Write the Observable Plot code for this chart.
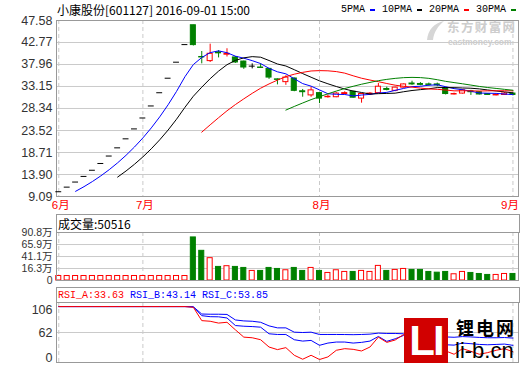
<!DOCTYPE html>
<html>
<head>
<meta charset="utf-8">
<script src="https://cdn.jsdelivr.net/npm/d3@7"></script>
<script src="https://cdn.jsdelivr.net/npm/@observablehq/plot@0.6"></script>
<style>
  html, body { margin: 0; padding: 0; background: #fff; }
  #chart { position: relative; width: 520px; height: 365px; overflow: hidden;
           font-family: "Noto Sans CJK SC", "Liberation Sans", sans-serif; color: #000; }
  .panel { position: absolute; left: 0; }
  .title { position: absolute; left: 57px; top: 2px; font-size: 12px; line-height: 16px; white-space: nowrap; }
  .legend { position: absolute; right: 4px; top: 3px; display: flex; align-items: center;
            font-family: "Liberation Mono", monospace; font-size: 10px; line-height: 14px; }
  .legend .sw { display: inline-block; width: 5px; height: 2px; margin: 0 7px 0 5px; }
  .legend .sw:last-child { margin-right: 0; }
  .box { position: absolute; left: 56px; width: 461px; border: 1px solid #999; border-bottom: none;
         white-space: nowrap; padding-left: 1px; }
  .vol-title { top: 214px; height: 18px; font-size: 12px; line-height: 18px; }
  .rsi-title { top: 287px; height: 15px; font-family: "Liberation Mono", monospace; font-size: 10px; line-height: 15px; }
  .mark-em { position: absolute; left: 424px; top: 20px; width: 94px; height: 26px; color: #cdcdcd; white-space: nowrap; }
  .mark-em svg { position: absolute; left: 0; top: 0; }
  .mark-em .cn { position: absolute; left: 23px; top: 0; font-size: 12.5px; line-height: 13px; font-weight: bold; letter-spacing: 1.4px; }
  .mark-em .en { position: absolute; left: 24px; top: 18px; font-family: "Liberation Sans", sans-serif;
                 font-size: 8.5px; line-height: 8px; font-weight: bold; }
  .mark-li { position: absolute; left: 404px; top: 318px; width: 114px; height: 45px; }
  .mark-li .blk { position: absolute; left: 0; top: 0; width: 44px; height: 45px; background: #d10000;
                  color: #fff; font: bold 42px/45px "Liberation Sans", sans-serif; text-align: center; letter-spacing: -2px; }
  .mark-li .cn { position: absolute; left: 52px; top: 0; font-size: 18px; line-height: 19px; font-weight: bold; letter-spacing: 2px; white-space: nowrap; }
  .mark-li .en { position: absolute; left: 51px; top: 22px; font: 22px/22px "Liberation Sans", sans-serif; white-space: nowrap; }
</style>
</head>
<body>
<div id="chart"></div>
<script>
// 小康股份 (601127) daily K-line, 2016-06-17 .. 2016-09-01
const stockName = "小康股份";
const stockCode = "601127";
const quoteTime = "15:00";

const dates = [
  "2016-06-17","2016-06-20","2016-06-21","2016-06-22","2016-06-23","2016-06-24","2016-06-27","2016-06-28","2016-06-29","2016-06-30",
  "2016-07-01","2016-07-04","2016-07-05","2016-07-06","2016-07-07","2016-07-08","2016-07-11","2016-07-12","2016-07-13","2016-07-14",
  "2016-07-15","2016-07-18","2016-07-19","2016-07-20","2016-07-21","2016-07-22","2016-07-25","2016-07-26","2016-07-27","2016-07-28",
  "2016-07-29","2016-08-01","2016-08-02","2016-08-03","2016-08-04","2016-08-05","2016-08-08","2016-08-09","2016-08-10","2016-08-11",
  "2016-08-12","2016-08-15","2016-08-16","2016-08-17","2016-08-18","2016-08-19","2016-08-22","2016-08-23","2016-08-24","2016-08-25",
  "2016-08-26","2016-08-29","2016-08-30","2016-08-31","2016-09-01"
];

// closes of the two listing days before the window (used by the moving averages only)
const priorCloses = [8.37, 9.21];

const opens = [
  10.13, 11.14, 12.25, 13.48, 14.83, 16.31, 17.94, 19.73, 21.70, 23.87,
  26.26, 28.89, 31.78, 34.96, 38.46, 42.31, 46.54, 39.60, 38.70, 40.60,
  40.10, 39.50, 38.60, 37.60, 37.30, 37.00, 34.70, 34.10, 34.90, 32.10,
  31.20, 31.70, 30.80, 30.80, 31.50, 32.00, 30.50, 31.40, 31.70, 32.60,
  32.20, 32.90, 33.80, 33.70, 33.60, 33.60, 32.80, 31.40, 31.60, 32.10,
  31.90, 31.50, 31.20, 31.30, 31.60
];
const highs = [
  10.13, 11.14, 12.25, 13.48, 14.83, 16.31, 17.94, 19.73, 21.70, 23.87,
  26.26, 28.89, 31.78, 34.96, 38.46, 42.31, 46.54, 40.80, 42.40, 41.00,
  41.40, 39.70, 38.70, 38.10, 38.10, 37.10, 34.80, 35.50, 35.00, 32.50,
  33.00, 31.80, 31.30, 31.80, 32.00, 32.10, 31.60, 31.80, 33.80, 33.00,
  33.00, 33.70, 34.30, 34.00, 33.90, 33.90, 33.00, 31.70, 32.50, 32.30,
  32.00, 31.60, 31.50, 31.80, 31.70
];
const lows = [
  10.13, 11.14, 12.25, 13.48, 14.83, 16.31, 17.94, 19.73, 21.70, 23.87,
  26.26, 28.89, 31.78, 34.96, 38.46, 42.31, 42.00, 38.10, 38.40, 39.40,
  39.60, 38.20, 36.90, 37.00, 37.10, 34.70, 33.50, 33.40, 32.00, 30.80,
  30.80, 29.40, 30.60, 30.70, 31.40, 30.60, 29.50, 31.20, 31.60, 32.20,
  32.00, 32.80, 33.40, 33.30, 33.20, 33.10, 31.30, 31.30, 31.50, 31.20,
  31.30, 31.20, 31.10, 31.20, 31.10
];
const closes = [
  10.13, 11.14, 12.25, 13.48, 14.83, 16.31, 17.94, 19.73, 21.70, 23.87,
  26.26, 28.89, 31.78, 34.96, 38.46, 42.31, 42.20, 39.50, 40.30, 40.40,
  40.30, 38.40, 37.30, 37.60, 37.20, 35.10, 34.60, 35.10, 32.20, 31.90,
  32.30, 30.50, 30.90, 31.60, 31.70, 30.70, 31.50, 31.60, 33.10, 32.40,
  32.90, 33.60, 33.60, 33.50, 33.50, 33.40, 31.50, 31.50, 32.30, 31.90,
  31.40, 31.30, 31.30, 31.60, 31.30
];
// volume in lots (手)
const volumes = [
  8200, 7600, 8100, 7900, 8300, 8000, 7700, 8400, 7800, 8100,
  8000, 7900, 8200, 7800, 8300, 8000, 806000, 529000, 377000, 196000,
  211000, 196000, 175000, 113000, 113000, 175000, 154000, 127000, 175000, 113000,
  175000, 113000, 71000, 127000, 92000, 92000, 113000, 92000, 217000, 113000,
  134000, 154000, 134000, 134000, 92000, 77000, 92000, 44000, 92000, 71000,
  50000, 30000, 30000, 50000, 50516
];

const rsiA = [
  100, 100, 100, 100, 100, 100, 100, 100, 100, 100,
  100, 100, 100, 100, 100, 100, 99.0, 79.4, 78.5, 75.8,
  77.0, 65.9, 55.2, 54.3, 51.4, 40.7, 36.9, 39.8, 28.6, 22.8,
  28.6, 22.4, 26.2, 35.9, 38.3, 37.3, 34.9, 40.7, 55.2, 47.5,
  51.0, 59.0, 57.0, 55.0, 53.0, 50.0, 35.0, 30.1, 38.3, 34.4,
  30.1, 32.5, 35.9, 38.3, 33.63
];
const rsiB = [
  100, 100, 100, 100, 100, 100, 100, 100, 100, 100,
  100, 100, 100, 100, 100, 100, 99.5, 86.7, 85.2, 85.0,
  83.3, 72.2, 71.2, 70.7, 69.8, 60.1, 59.1, 59.1, 51.4, 49.4,
  50.4, 43.2, 46.5, 48.0, 48.0, 46.5, 47.5, 49.4, 56.2, 49.0,
  52.8, 57.7, 57.0, 56.0, 55.0, 54.0, 44.0, 43.5, 46.5, 45.6,
  44.5, 44.0, 44.5, 45.0, 43.14
];
const rsiC = [
  100, 100, 100, 100, 100, 100, 100, 100, 100, 100,
  100, 100, 100, 100, 100, 100, 99.7, 89.1, 88.8, 88.8,
  88.5, 80.4, 79.0, 78.5, 77.0, 71.7, 68.8, 68.8, 62.5, 62.0,
  62.5, 59.1, 59.1, 59.1, 59.0, 58.8, 59.1, 59.6, 61.1, 60.6,
  60.6, 60.1, 60.5, 60.0, 59.5, 59.0, 55.5, 55.0, 56.0, 55.5,
  54.8, 54.3, 54.3, 54.6, 53.85
];

const maPeriods = [5, 10, 20, 30];
const maColors = ["#0000ff", "#000000", "#ff0000", "#008000"];
const priceTicks = [47.58, 42.77, 37.96, 33.15, 28.34, 23.52, 18.71, 13.90, 9.09];
const volTicks = [908000, 659000, 411000, 163000, -85000];
const volTickLabels = ["90.8万", "65.9万", "41.1万", "16.3万", "0"];
const rsiTicks = [106, 62, 18];
const rsiTickLabels = ["106", "62", "0"];
const monthLabels = ["6月", "7月", "8月", "9月"];

// ---- derived rows -------------------------------------------------------
const rows = dates.map((date, i) => ({
  i, date, open: opens[i], high: highs[i], low: lows[i], close: closes[i], vol: volumes[i]
}));
const maRows = [
  ...priorCloses.map((close, k) => ({i: k - priorCloses.length, close})),
  ...rows
];
const monthIdx = dates.map((d, i) => i).filter(i => i === 0 || dates[i].slice(0, 7) !== dates[i - 1].slice(0, 7));
const lastMonth = monthIdx[monthIdx.length - 1];

const RED = "#ff0000", GREEN = "#008000", BLUE = "#0000ff";
const FRAME = "#999999", GRID = "#cacaca";
const candleColor = d => d.close > d.open ? RED : d.close < d.open ? GREEN : "#000000";
const hw = 0.3;
const xDomain = [-0.27, 54.66];
const common = {
  width: 520, marginLeft: 56, marginRight: 2,
  x: {domain: xDomain, axis: null},
  color: {type: "identity"},
  style: {background: "transparent", overflow: "visible", fontFamily: "'Liberation Sans', 'Noto Sans CJK SC', sans-serif"}
};
const monthRules = Plot.ruleX(monthIdx, {x: d => d, stroke: GRID, strokeDasharray: "4,3"});
const yLabel = (ticks, labels, opts = {}) =>
  Plot.text(ticks, {y: d => d, text: (d, i) => labels[i], frameAnchor: "left", textAnchor: "end",
                    dx: -4, fontSize: 12.5, fill: "#333", ...opts});
const monthText = (ticks, opts) =>
  Plot.text(ticks, {x: d => d, text: d => monthLabels[monthIdx.indexOf(d)], frameAnchor: "bottom",
                    lineAnchor: "top", dy: 4, fill: RED, fontSize: 11.5, ...opts});

// ---- price panel ----------------------------------------------------------
const pricePlot = Plot.plot({
  ...common,
  height: 212, marginTop: 20, marginBottom: 16,
  y: {domain: [priceTicks[priceTicks.length - 1], priceTicks[0]], axis: null},
  marks: [
    Plot.ruleY(priceTicks, {y: d => d, stroke: GRID}),
    monthRules,
    Plot.frame({stroke: FRAME}),
    Plot.ruleX(rows.filter(d => d.high > d.low), {x: "i", y1: "low", y2: "high", stroke: candleColor}),
    Plot.rect(rows.filter(d => d.open !== d.close), {
      x1: d => d.i - hw, x2: d => d.i + hw, y1: "open", y2: "close",
      fill: d => d.close > d.open ? "#ffffff" : GREEN, stroke: candleColor
    }),
    Plot.ruleY(rows.filter(d => d.open === d.close), {
      y: "close", x1: d => d.i - hw - 0.05, x2: d => d.i + hw + 0.05, stroke: candleColor
    }),
    ...maPeriods.map((k, j) => Plot.lineY(maRows,
      Plot.windowY({k, anchor: "end", reduce: "mean", strict: true},
                   {x: "i", y: "close", stroke: maColors[j], strokeWidth: 1}))),
    yLabel(priceTicks, priceTicks.map(v => v.toFixed(2))),
    monthText(monthIdx.filter(i => i !== lastMonth), {dx: 2}),
    monthText([lastMonth], {textAnchor: "end", dx: 6})
  ]
});

// ---- volume panel ---------------------------------------------------------
const volFloor = volTicks[volTicks.length - 1];
const volPlot = Plot.plot({
  ...common,
  height: 72, marginTop: 20, marginBottom: 4,
  y: {domain: [volFloor, volTicks[0]], axis: null},
  marks: [
    Plot.ruleY(volTicks.slice(1, -1), {y: d => d, stroke: GRID}),
    monthRules,
    Plot.rect(rows, {
      x1: d => d.i - hw, x2: d => d.i + hw, y1: volFloor, y2: "vol",
      fill: d => d.close >= d.open ? "#ffffff" : GREEN,
      stroke: d => d.close >= d.open ? RED : GREEN
    }),
    Plot.frame({stroke: FRAME}),
    yLabel(volTicks, volTickLabels, {fontSize: 10.5})
  ]
});

// ---- RSI panel ------------------------------------------------------------
const rsiSeries = [
  {name: "RSI_A", values: rsiA, color: RED},
  {name: "RSI_B", values: rsiB, color: BLUE},
  {name: "RSI_C", values: rsiC, color: BLUE}
];
const rsiPlot = Plot.plot({
  ...common,
  height: 81, marginTop: 18, marginBottom: 3,
  y: {domain: [rsiTicks[rsiTicks.length - 1], rsiTicks[0]], axis: null},
  marks: [
    Plot.ruleY([rsiTicks[1]], {y: d => d, stroke: GRID}),
    monthRules,
    Plot.frame({stroke: FRAME}),
    ...rsiSeries.slice().reverse().map(s =>
      Plot.lineY(s.values, {x: (d, i) => i, y: d => d, stroke: s.color, strokeWidth: 1})),
    yLabel([rsiTicks[0]], [rsiTickLabels[0]], {lineAnchor: "top", dy: 3}),
    yLabel([rsiTicks[1]], [rsiTickLabels[1]]),
    yLabel([rsiTicks[2]], [rsiTickLabels[2]], {lineAnchor: "bottom", dy: -1})
  ]
});

// ---- assemble ---------------------------------------------------------------
const chart = document.getElementById("chart");
function place(node, top) {
  const wrap = document.createElement("div");
  wrap.className = "panel";
  wrap.style.top = top + "px";
  wrap.appendChild(node);
  chart.appendChild(wrap);
}
place(pricePlot, 0);
place(volPlot, 212);
place(rsiPlot, 284);

const title = document.createElement("div");
title.className = "title";
title.textContent = `${stockName}[${stockCode}] ${dates[dates.length - 1]} ${quoteTime}`;
chart.appendChild(title);

const legend = document.createElement("div");
legend.className = "legend";
maPeriods.forEach((k, j) => {
  const t = document.createElement("span");
  t.textContent = `${k}PMA`;
  const sw = document.createElement("span");
  sw.className = "sw";
  sw.style.background = maColors[j];
  legend.append(t, sw);
});
chart.appendChild(legend);

const volTitle = document.createElement("div");
volTitle.className = "box vol-title";
volTitle.textContent = `成交量:${volumes[volumes.length - 1]}`;
chart.appendChild(volTitle);

const rsiTitle = document.createElement("div");
rsiTitle.className = "box rsi-title";
rsiSeries.forEach((s, j) => {
  const sp = document.createElement("span");
  sp.style.color = s.color;
  sp.textContent = `${s.name}:${s.values[s.values.length - 1].toFixed(2)}` + (j < rsiSeries.length - 1 ? " " : "");
  rsiTitle.appendChild(sp);
});
chart.appendChild(rsiTitle);

// site marks
const em = document.createElement("div");
em.className = "mark-em";
em.innerHTML = `<svg width="22" height="22" viewBox="0 0 22 22"><path d="M3 20 C4 10 10 3 20 1 C14 6 10 12 9 20 Z" fill="#d6d6d6"/></svg>` +
  `<span class="cn">东方财富网</span><span class="en">eastmoney.com</span>`;
chart.appendChild(em);

const li = document.createElement("div");
li.className = "mark-li";
li.innerHTML = `<div class="blk">LI</div><div class="cn">锂电网</div><div class="en">li-b.cn</div>`;
chart.appendChild(li);
</script>
</body>
</html>
